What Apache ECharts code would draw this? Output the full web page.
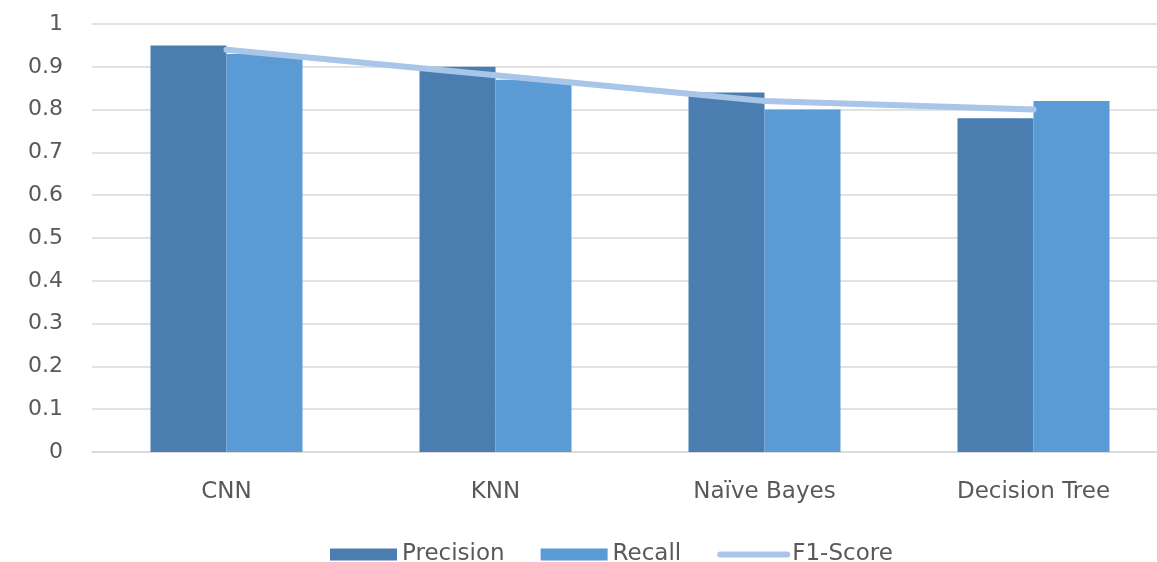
<!DOCTYPE html>
<html>
<head>
<meta charset="utf-8">
<script src="https://cdn.jsdelivr.net/npm/echarts@6/dist/echarts.min.js"></script>
<style>
  html, body { margin: 0; padding: 0; background: #ffffff; overflow: hidden; }
  /* canvas runs a little past the window so the last category is cut at the edge */
  #chart { width: 1168px; height: 562px; }
</style>
</head>
<body>
<div id="chart"></div>
<script>
// Classifier comparison: precision / recall bars with an F1 line
const categories = ['CNN', 'KNN', 'Naïve Bayes', 'Decision Tree'];
const precision = [0.95, 0.90, 0.84, 0.78];
const recall = [0.93, 0.87, 0.80, 0.82];
const f1Score = [0.94, 0.88, 0.82, 0.80];
const yTicks = { min: 0, max: 1, interval: 0.1 };

const font = '"DejaVu Sans", "Open Sans", sans-serif';
const textColor = '#595959';
const f1Color = '#a9c5e8';

const chart = echarts.init(document.getElementById('chart'));
chart.setOption({
  animation: false,
  textStyle: { fontFamily: font },
  grid: { left: 92, top: 24, right: 0, bottom: 110, containLabel: false },
  legend: {
    left: 325,
    top: 538,
    itemWidth: 67,
    itemHeight: 12,
    itemGap: 36,
    textStyle: { fontSize: 23, color: textColor, fontFamily: font },
    data: [
      { name: 'Precision', icon: 'rect' },
      { name: 'Recall', icon: 'rect' },
      {
        name: 'F1-Score',
        itemStyle: { color: 'rgba(0,0,0,0)', borderWidth: 0 },
        lineStyle: { color: f1Color, width: 6, cap: 'round' }
      }
    ]
  },
  xAxis: {
    type: 'category',
    data: categories,
    axisLine: { lineStyle: { color: '#d9d9d9', width: 1.5 } },
    axisTick: { show: false },
    axisLabel: { fontSize: 23, color: textColor, margin: 29, fontFamily: font }
  },
  yAxis: {
    type: 'value',
    min: yTicks.min,
    max: yTicks.max,
    interval: yTicks.interval,
    axisLine: { show: false },
    axisTick: { show: false },
    splitLine: { lineStyle: { color: '#d9d9d9', width: 1.5 } },
    axisLabel: { fontSize: 22, color: textColor, margin: 29, fontFamily: font }
  },
  series: [
    {
      name: 'Precision',
      type: 'bar',
      data: precision,
      barWidth: 76,
      barGap: '0%',
      itemStyle: { color: '#4a7eb0' }
    },
    {
      name: 'Recall',
      type: 'bar',
      data: recall,
      barWidth: 76,
      barGap: '0%',
      itemStyle: { color: '#5b9bd5' }
    },
    {
      name: 'F1-Score',
      type: 'line',
      data: f1Score,
      symbol: 'none',
      z: 5,
      itemStyle: { color: f1Color },
      lineStyle: { color: f1Color, width: 6, cap: 'round' }
    }
  ]
});
</script>
</body>
</html>
